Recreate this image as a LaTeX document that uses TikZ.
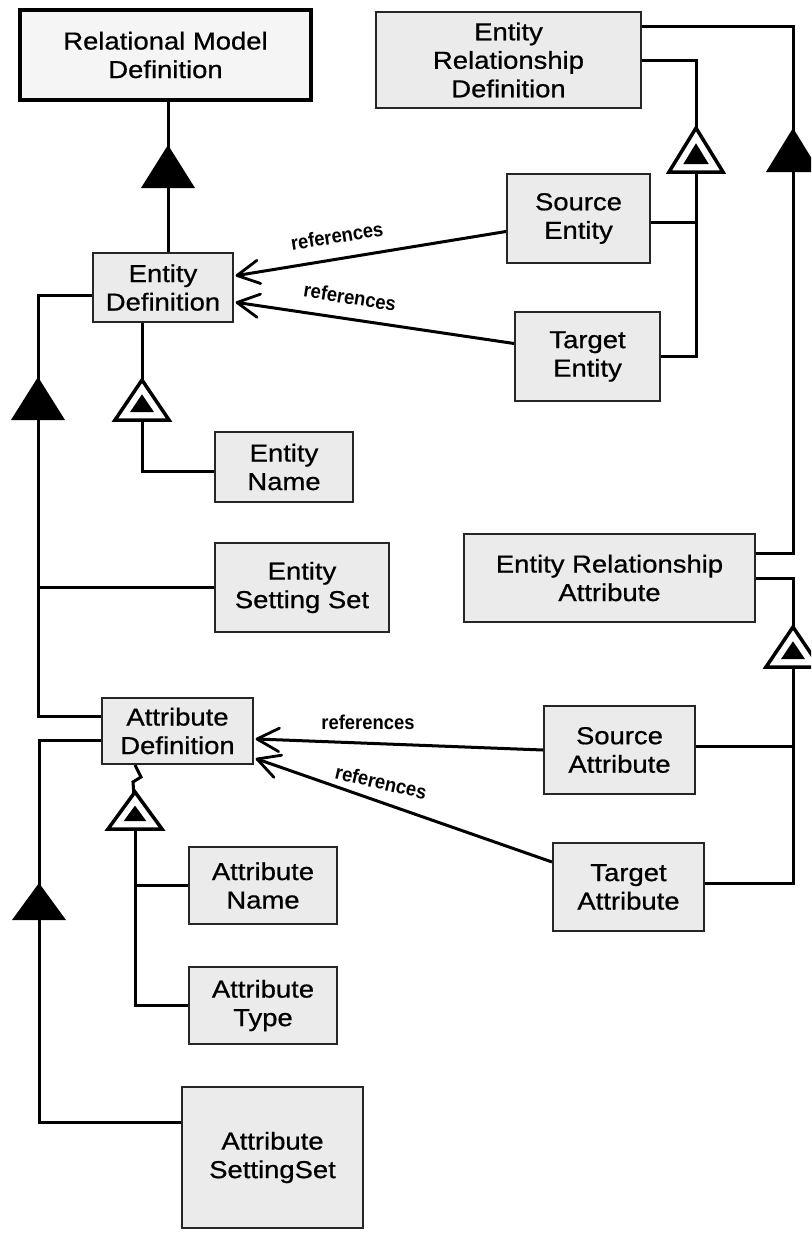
\documentclass[tikz,border=0pt]{standalone}
\usepackage{fontspec}
\setmainfont{Liberation Sans}[FakeStretch=1.12, FakeBold=0.7]
\newfontfamily\lblfont{Liberation Sans}[FakeStretch=0.92]
\usetikzlibrary{calc}

\tikzset{
  box/.style={draw=black!85, line width=2pt, fill=black!8, align=center,
    inner sep=0pt, font=\fontsize{24.5}{28.5}\selectfont},
  mainbox/.style={box, line width=4.5pt, draw=black, fill=black!4},
  conn/.style={line width=3pt, draw=black},
  barbline/.style={line width=2.8pt, draw=black, line join=round, line cap=round},
  reflabel/.style={font=\lblfont\bfseries\fontsize{20}{22}\selectfont, inner sep=0pt},
  % solid generalisation triangle, argument = height
  soltri/.pic={
    \fill[black] (0,-#1/2) -- (27,#1/2) -- (-27,#1/2) -- cycle;
  },
  % outlined triangle with a solid core, argument = height
  hollowtri/.pic={
    \pgfmathsetmacro\hh{#1/2}
    \pgfmathsetmacro\ia{-\hh+8*sqrt(27*27+#1*#1)/27}
    \pgfmathsetmacro\ib{\hh-8}
    \pgfmathsetmacro\iw{27*(\ib-\ia)/#1}
    \filldraw[fill=white, draw=black, line width=3.5pt, line join=miter]
      (0,-\hh) -- (27,\hh) -- (-27,\hh) -- cycle;
    \fill[black] (0,\ia) -- (\iw,\ib) -- (-\iw,\ib) -- cycle;
  },
}

% open "references" arrow from #1 to the tip #2
\newcommand\refline[2]{%
  \draw[conn] (#1) -- (#2);
  \draw[barbline] ($(#2)!25pt!28:(#1)$) -- (#2) -- ($(#2)!25pt!-28:(#1)$);
}

\begin{document}
\begin{tikzpicture}[x=1pt, y=-1pt]
  \clip (0,0) rectangle (811,1239);
  \fill[white] (0,0) rectangle (811,1239);

  % entity boxes
  \node[mainbox, minimum width=291pt, minimum height=90pt] (rmd) at (165.5,55) {Relational Model\\Definition};
  \node[box, minimum width=265pt, minimum height=96pt] (erd) at (508.5,60) {Entity\\Relationship\\Definition};
  \node[box, minimum width=140pt, minimum height=69pt] (ed) at (163,287.5) {Entity\\Definition};
  \node[box, minimum width=143pt, minimum height=89pt] (se) at (578.5,218.5) {Source\\Entity};
  \node[box, minimum width=145pt, minimum height=89pt] (te) at (587.5,356.5) {Target\\Entity};
  \node[box, minimum width=138pt, minimum height=70pt] (en) at (284,467) {Entity\\Name};
  \node[box, minimum width=174pt, minimum height=89pt] (ess) at (302,587.5) {Entity\\Setting Set};
  \node[box, minimum width=291pt, minimum height=88pt] (era) at (609.5,578) {Entity Relationship\\Attribute};
  \node[box, minimum width=151pt, minimum height=66pt] (ad) at (177.5,731) {Attribute\\Definition};
  \node[box, minimum width=151pt, minimum height=88pt] (sa) at (619.5,750) {Source\\Attribute};
  \node[box, minimum width=151pt, minimum height=88pt] (ta) at (628.5,887) {Target\\Attribute};
  \node[box, minimum width=148pt, minimum height=77pt] (an) at (263,885.5) {Attribute\\Name};
  \node[box, minimum width=148pt, minimum height=77pt] (aty) at (263,1005.5) {Attribute\\Type};
  \node[box, minimum width=181pt, minimum height=141pt] (ass) at (272.5,1157.5) {Attribute\\SettingSet};

  % triangle centres
  \coordinate (tA) at (168,166.5);
  \coordinate (tR1) at (793,150);
  \coordinate (tR2) at (696,150);
  \coordinate (tL1) at (38,398.5);
  \coordinate (tH1) at (142,400);
  \coordinate (tR3) at (793,647);
  \coordinate (tH2) at (135,810.5);
  \coordinate (tL2) at (39,901.5);

  % hierarchy connectors
  \draw[conn] (rmd.south -| tA) -- (ed.north -| tA);
  \draw[conn] ($(erd.north east)+(0,16)$) -| (tR1) |- ($(era.north east)+(0,20)$);
  \draw[conn] ($(erd.north east)+(0,50)$) -| (tR2) |- (te.east);
  \draw[conn] ($(se.east)+(0,4)$) coordinate (seR) -- (seR -| tR2);
  \draw[conn] ($(ed.west)+(0,8)$) -| (tL1) |- ($(ad.west)+(0,-15)$);
  \draw[conn] (ess.west) -- (ess.west -| tL1);
  \draw[conn] (ed.south -| tH1) -- (tH1);
  \draw[conn] ($(en.west)+(0,4)$) coordinate (enL) -| (tH1);
  \draw[conn] ($(era.north east)+(0,45)$) -| (tR3) |- ($(ta.east)+(0,-4)$);
  \draw[conn] ($(sa.east)+(0,-4)$) coordinate (saR) -- (saR -| tR3);
  \draw[conn] ($(ad.west)+(0,9)$) -| (tL2) |- ($(ass.north west)+(0,36)$);
  \draw[conn] (ad.south -| tH2) -- ++(6,12) -- ++(-8,5) -- (tH2);
  \draw[conn] (an.west) -| (tH2);
  \draw[conn] (aty.west) -| (tH2);

  % triangles
  \pic at (tA) {soltri=43};
  \pic at (tR1) {soltri=44};
  \pic at (tL1) {soltri=43};
  \pic at (tL2) {soltri=37};
  \pic at (tR2) {hollowtri=44};
  \pic at (tH1) {hollowtri=40};
  \pic at (tR3) {hollowtri=40};
  \pic at (tH2) {hollowtri=37};

  % reference associations
  \coordinate (r1s) at ($(se.west)+(0,13)$);
  \coordinate (r1t) at ($(ed.east)+(3,-12)$);
  \coordinate (r2s) at ($(te.west)+(0,-13)$);
  \coordinate (r2t) at ($(ed.east)+(3,15)$);
  \coordinate (r3s) at (sa.west);
  \coordinate (r3t) at ($(ad.east)+(3,8)$);
  \coordinate (r4s) at ($(ta.west)+(0,-25)$);
  \coordinate (r4t) at ($(ad.east)+(3,28)$);
  \refline{r1s}{r1t}
  \refline{r2s}{r2t}
  \refline{r3s}{r3t}
  \refline{r4s}{r4t}

  \node[reflabel, rotate=9] (l1) at (337,236) {references};
  \node[reflabel, rotate=-9] (l2) at (350,297) {references};
  \node[reflabel] (l3) at (368,722) {references};
  \node[reflabel, rotate=-13] (l4) at (381,782) {references};
\end{tikzpicture}
\end{document}
